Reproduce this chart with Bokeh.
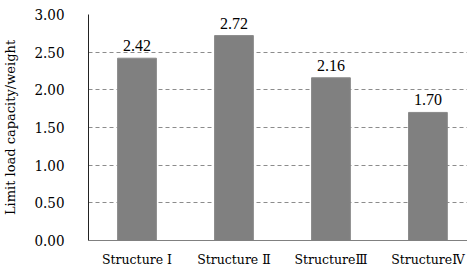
from bokeh.plotting import figure
from bokeh.models import Range1d, FixedTicker, ColumnDataSource, LabelSet
from bokeh.embed import file_html
from bokeh.resources import INLINE

categories = ["Structure \u2160", "Structure \u2161", "Structure\u2162", "Structure\u2163"]
values = [2.42, 2.72, 2.16, 1.70]
value_labels = ["2.42", "2.72", "2.16", "1.70"]
y_ticks = [0.0, 0.5, 1.0, 1.5, 2.0, 2.5, 3.0]

xs = [i + 0.5 for i in range(len(categories))]
src = ColumnDataSource(dict(x=xs, top=values, lab=value_labels))

FONT = "DejaVu Serif"
FONTC = "DejaVu Serif Condensed"

p = figure(width=467, height=273, output_backend="svg", toolbar_location=None,
           x_range=Range1d(0, 3.908), y_range=Range1d(0, 3.0),
           min_border_left=86, min_border_right=0, min_border_top=14, min_border_bottom=33)
p.outline_line_color = None
p.background_fill_color = "white"
p.border_fill_color = "white"

p.vbar(x="x", top="top", width=0.4, bottom=0, source=src,
       fill_color="#808080", line_color="#8a8a8a", line_width=1)

labels = LabelSet(x="x", y="top", text="lab", source=src, text_align="center",
                  text_baseline="bottom", y_offset=7, text_font=FONTC,
                  text_font_size="16px", text_color="black")
p.add_layout(labels)

p.xaxis.ticker = FixedTicker(ticks=xs)
p.xaxis.major_label_overrides = {x: c for x, c in zip(xs, categories)}
p.xaxis.major_label_text_font = FONT
p.xaxis.major_label_text_font_size = "12.5px"
p.xaxis.major_label_text_color = "black"
p.xaxis.major_label_standoff = 5
p.xaxis.major_tick_line_color = None
p.xaxis.minor_tick_line_color = None
p.xaxis.axis_line_color = "#808080"

p.yaxis.ticker = FixedTicker(ticks=y_ticks)
p.yaxis.major_label_overrides = {t: f"{t:.2f}" for t in y_ticks}
p.yaxis.major_label_text_font = FONTC
p.yaxis.major_label_text_font_size = "15px"
p.yaxis.major_label_text_color = "black"
p.yaxis.major_label_standoff = 18
p.yaxis.major_tick_line_color = None
p.yaxis.minor_tick_line_color = None
p.yaxis.axis_line_color = "#222222"
p.yaxis.axis_label = "Limit load capacity/weight"
p.yaxis.axis_label_text_font = FONT
p.yaxis.axis_label_text_font_size = "13px"
p.yaxis.axis_label_text_font_style = "normal"
p.yaxis.axis_label_text_color = "black"
p.yaxis.axis_label_standoff = 13

p.xgrid.grid_line_color = None
p.ygrid.grid_line_color = "#8c8c8c"
p.ygrid.grid_line_dash = "4 3"
p.ygrid.grid_line_width = 1

open("out.html", "w").write(file_html(p, INLINE))
